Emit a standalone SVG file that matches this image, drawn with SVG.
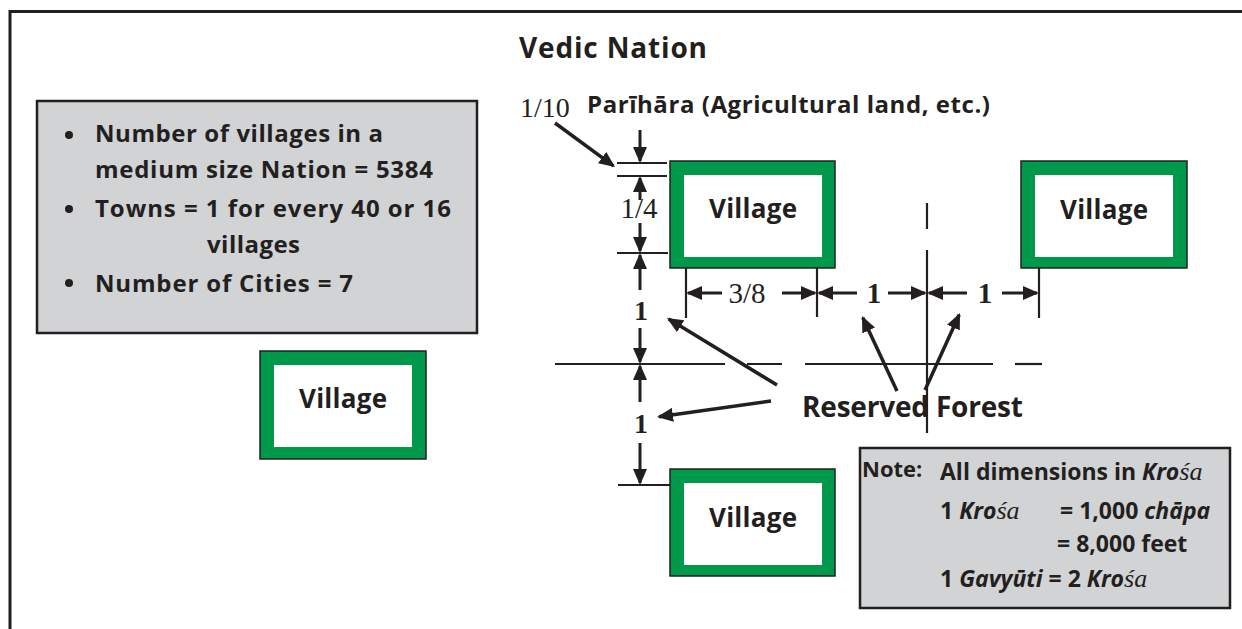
<svg xmlns="http://www.w3.org/2000/svg" width="1242" height="629" viewBox="0 0 1242 629">
  <style>
    .sans { font-family: "Open Sans", "Noto Sans", "Liberation Sans", sans-serif; font-weight: bold; fill: #231f20; }
    .serif { font-family: "Liberation Serif", "DejaVu Serif", serif; fill: #231f20; }
    .it { font-style: italic; }
    .panel { fill: #d1d3d4; stroke: #231f20; stroke-width: 2.5; }
    .vout { fill: #00994c; stroke: #231f20; stroke-width: 1.5; }
    .vin { fill: #ffffff; }
    .ext { stroke: #231f20; stroke-width: 2.2; fill: none; }
    .dim { stroke: #231f20; stroke-width: 3; fill: none; marker-end: url(#head); }
    .lead { stroke: #231f20; stroke-width: 3.5; fill: none; marker-end: url(#head); }
  </style>
  <defs>
    <marker id="head" viewBox="0 0 16 14" refX="14" refY="7" markerWidth="16" markerHeight="14" markerUnits="userSpaceOnUse" orient="auto">
      <path d="M0,0 L16,7 L0,14 z" fill="#231f20"/>
    </marker>
  </defs>

  <rect width="1242" height="629" fill="#ffffff"/>

  <!-- page frame -->
  <path d="M10,629 V11.5 H1242" fill="none" stroke="#231f20" stroke-width="3"/>

  <!-- title -->
  <text id="title" class="sans" x="519" y="58" font-size="28" textLength="188">Vedic Nation</text>

  <!-- summary panel -->
  <g id="summary">
    <rect class="panel" x="37" y="101" width="440" height="232"/>
    <circle cx="69" cy="135" r="4" fill="#231f20"/>
    <circle cx="69" cy="209" r="4" fill="#231f20"/>
    <circle cx="69" cy="283" r="4" fill="#231f20"/>
    <text class="sans" font-size="24" x="95" y="142" textLength="288">Number of villages in a</text>
    <text class="sans" font-size="24" x="95" y="178" textLength="338">medium size Nation = 5384</text>
    <text class="sans" font-size="24" x="95" y="217" textLength="356">Towns = 1 for every 40 or 16</text>
    <text class="sans" font-size="24" x="207" y="253" textLength="93">villages</text>
    <text class="sans" font-size="24" x="95" y="292" textLength="258">Number of Cities = 7</text>
  </g>

  <!-- villages -->
  <g id="village-a">
    <rect class="vout" x="670" y="161" width="165" height="107"/>
    <rect class="vin" x="684" y="175" width="138" height="82"/>
    <text class="sans" font-size="26" x="753" y="218" text-anchor="middle" textLength="88">Village</text>
  </g>
  <g id="village-b">
    <rect class="vout" x="1021" y="161" width="166" height="107"/>
    <rect class="vin" x="1035" y="175" width="138" height="82"/>
    <text class="sans" font-size="26" x="1104" y="219" text-anchor="middle" textLength="88">Village</text>
  </g>
  <g id="village-c">
    <rect class="vout" x="260" y="351" width="166" height="108"/>
    <rect class="vin" x="274" y="365" width="138" height="82"/>
    <text class="sans" font-size="26" x="343" y="408" text-anchor="middle" textLength="88">Village</text>
  </g>
  <g id="village-d">
    <rect class="vout" x="670" y="469" width="165" height="107"/>
    <rect class="vin" x="684" y="483" width="138" height="82"/>
    <text class="sans" font-size="26" x="753" y="527" text-anchor="middle" textLength="88">Village</text>
  </g>

  <!-- note panel -->
  <g id="note">
    <rect class="panel" x="860" y="448" width="370" height="160"/>
    <text class="sans" font-size="22" x="862" y="477">Note:</text>
    <text class="sans" font-size="23" x="940" y="480">All dimensions in <tspan class="it">Kro</tspan><tspan class="serif it" font-weight="normal" font-size="26">śa</tspan></text>
    <text class="sans" font-size="23" x="940" y="519">1 <tspan class="it">Kro</tspan><tspan class="serif it" font-weight="normal" font-size="26">śa</tspan></text>
    <text class="sans" font-size="23" x="1060" y="519">= 1,000 <tspan class="it">chāpa</tspan></text>
    <text class="sans" font-size="23" x="1057" y="552">= 8,000 feet</text>
    <text class="sans" font-size="23" x="940" y="587">1 <tspan class="it">Gavyūti</tspan> = 2 <tspan class="it">Kro</tspan><tspan class="serif it" font-weight="normal" font-size="26">śa</tspan></text>
  </g>

  <!-- labels -->
  <g id="labels">
    <text class="sans" font-size="24" x="587" y="113" textLength="403">Parīhāra (Agricultural land, etc.)</text>
    <text class="serif" font-size="28" x="520" y="117">1/10</text>
    <text class="serif" font-size="29" x="639" y="218" text-anchor="middle">1/4</text>
    <text class="serif" font-size="29" x="747" y="303" text-anchor="middle">3/8</text>
    <text class="serif" font-size="29" font-weight="bold" x="874" y="303" text-anchor="middle">1</text>
    <text class="serif" font-size="29" font-weight="bold" x="985" y="303" text-anchor="middle">1</text>
    <text class="serif" font-size="28" font-weight="bold" x="641" y="320" text-anchor="middle">1</text>
    <text class="serif" font-size="28" font-weight="bold" x="641" y="433" text-anchor="middle">1</text>
    <text class="sans" font-size="28" x="802" y="417" textLength="221">Reserved Forest</text>
  </g>

  <!-- connectors -->
  <g id="connectors">
    <!-- extension and centre lines -->
    <line class="ext" x1="617" y1="163" x2="667" y2="163"/>
    <line class="ext" x1="617" y1="176" x2="667" y2="176"/>
    <line class="ext" x1="617" y1="253" x2="668" y2="253"/>
    <line class="ext" x1="618" y1="485" x2="670" y2="485"/>
    <line class="ext" x1="686" y1="268" x2="686" y2="318"/>
    <line class="ext" x1="817" y1="268" x2="817" y2="317"/>
    <line class="ext" x1="1039" y1="268" x2="1039" y2="318"/>
    <line class="ext" x1="927" y1="203" x2="927" y2="229"/>
    <line class="ext" x1="927" y1="250" x2="927" y2="433"/>
    <line class="ext" x1="555" y1="364" x2="725" y2="364"/>
    <line class="ext" x1="747" y1="364" x2="782" y2="364"/>
    <line class="ext" x1="805" y1="364" x2="993" y2="364"/>
    <line class="ext" x1="1015" y1="364" x2="1042" y2="364"/>

    <!-- vertical dimensions -->
    <line class="dim" x1="640" y1="130" x2="640" y2="161"/>
    <line class="dim" x1="640" y1="200" x2="640" y2="178"/>
    <line class="dim" x1="640" y1="223" x2="640" y2="251"/>
    <line class="dim" x1="640" y1="290" x2="640" y2="255"/>
    <line class="dim" x1="640" y1="328" x2="640" y2="362"/>
    <line class="dim" x1="640" y1="402" x2="640" y2="366"/>
    <line class="dim" x1="640" y1="443" x2="640" y2="483"/>

    <!-- horizontal dimensions -->
    <line class="dim" x1="722" y1="293" x2="688" y2="293"/>
    <line class="dim" x1="782" y1="293" x2="815" y2="293"/>
    <line class="dim" x1="857" y1="293" x2="819" y2="293"/>
    <line class="dim" x1="888" y1="293" x2="925" y2="293"/>
    <line class="dim" x1="967" y1="293" x2="929" y2="293"/>
    <line class="dim" x1="1002" y1="293" x2="1037" y2="293"/>

    <!-- leaders -->
    <line class="lead" x1="555" y1="123" x2="613.4" y2="165.8"/>
    <line class="lead" x1="777" y1="385" x2="668.7" y2="319"/>
    <line class="lead" x1="771" y1="401" x2="659" y2="416.7"/>
    <line class="lead" x1="897" y1="391" x2="862.8" y2="317.8"/>
    <line class="lead" x1="925" y1="390" x2="959.2" y2="314.8"/>
  </g>
</svg>
